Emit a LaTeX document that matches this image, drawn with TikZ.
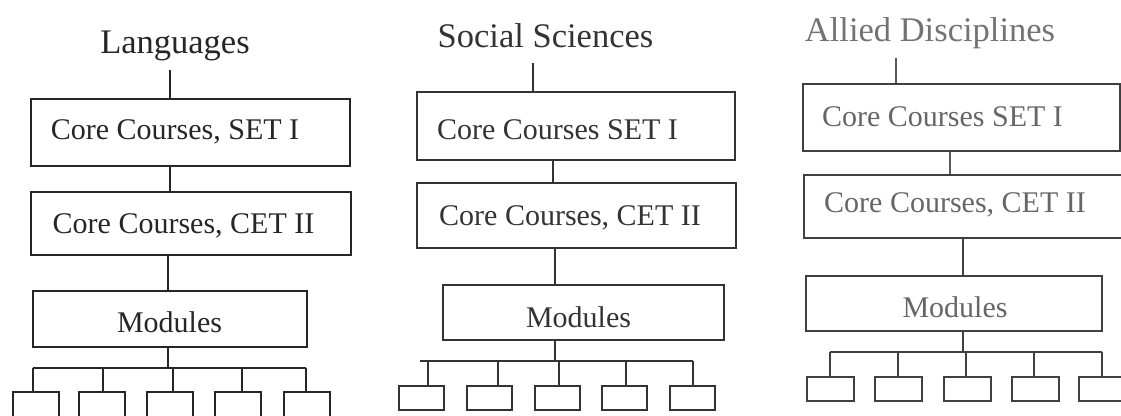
\documentclass[tikz,border=0pt]{standalone}
\usepackage{fontspec}
\setmainfont{Liberation Serif}
\begin{document}
\begin{tikzpicture}[x=1pt,y=-1pt,
  box/.style={draw=#1, line width=1.6pt, rectangle, inner sep=0pt, anchor=north west},
  box/.default=black!85,
  link/.style={draw=#1, line width=1.5pt},
  link/.default=black!85,
  txt/.style={text=#1, inner sep=0pt, anchor=base, font=\fontsize{30}{36}\selectfont},
  txt/.default=black!85,
  head/.style={text=#1, inner sep=0pt, anchor=base, font=\fontsize{34.5}{40}\selectfont},
  head/.default=black!85]
\useasboundingbox (0,0) rectangle (1121,415);

% ---------- Languages ----------
\node[head] (Lh) at (175,53) {Languages};
\node[box, minimum width=319pt, minimum height=67pt] (L1) at (30,98) {};
\node[txt] (L1t) at (175,139) {Core Courses, SET I};
\node[box, minimum width=320pt, minimum height=63pt] (L2) at (30,191) {};
\node[txt] (L2t) at (183.5,233) {Core Courses, CET II};
\node[box, minimum width=274pt, minimum height=56pt] (L3) at (32,290) {};
\node[txt] (L3t) at (169.5,332) {Modules};
\coordinate (La) at (170,70);
\draw[link] (La) -- (La |- L1.north);
\draw[link] (La |- L1.south) -- (La |- L2.north);
\coordinate (Lb) at (168,0);
\draw[link] (Lb |- L2.south) -- (Lb |- L3.north);
\coordinate (Lbar) at (168,368);
\draw[link] (Lb |- L3.south) -- (Lbar);
\foreach \i/\bx/\dx in {1/12/33, 2/78/103, 3/146/173, 4/214/242, 5/283/306} {
  \node[box, minimum width=46pt, minimum height=34pt] (Ls\i) at (\bx,391) {};
  \coordinate (Lj\i) at (\dx,368);
  \draw[link] (Lj\i) -- (Lj\i |- Ls\i.north);
}
\draw[link] (Lj1) -- (Lj5);

% ---------- Social Sciences ----------
\node[head=black!80] (Sh) at (545.5,47) {Social Sciences};
\node[box=black!80, minimum width=318pt, minimum height=68pt] (S1) at (416,91) {};
\node[txt=black!80] (S1t) at (557.5,139) {Core Courses SET I};
\node[box=black!80, minimum width=319pt, minimum height=65pt] (S2) at (416,182) {};
\node[txt=black!80] (S2t) at (570,225) {Core Courses, CET II};
\node[box=black!80, minimum width=281pt, minimum height=55pt] (S3) at (442,284) {};
\node[txt=black!80] (S3t) at (578.5,327) {Modules};
\coordinate (Sa) at (533,63);
\draw[link=black!80] (Sa) -- (Sa |- S1.north);
\coordinate (Sb) at (553,0);
\draw[link=black!80] (Sb |- S1.south) -- (Sb |- S2.north);
\coordinate (Sc) at (555,0);
\draw[link=black!80] (Sc |- S2.south) -- (Sc |- S3.north);
\coordinate (Sbar) at (555,361);
\draw[link=black!80] (Sc |- S3.south) -- (Sbar);
\foreach \i/\bx/\dx in {1/398/428, 2/466/498, 3/534/559, 4/601/626, 5/669/693} {
  \node[box=black!80, minimum width=45pt, minimum height=24pt] (Ss\i) at (\bx,385) {};
  \coordinate (Sj\i) at (\dx,361);
  \draw[link=black!80] (Sj\i) -- (Sj\i |- Ss\i.north);
}
\coordinate (Sbl) at (420,361);
\draw[link=black!80] (Sbl) -- (Sj5);

% ---------- Allied Disciplines ----------
\node[head=black!55] (Ah) at (930,41) {Allied Disciplines};
\node[box=black!75, minimum width=317pt, minimum height=67pt] (A1) at (802,83) {};
\node[txt=black!60] (A1t) at (942.5,126) {Core Courses SET I};
\node[box=black!75, minimum width=330pt, minimum height=63pt] (A2) at (803,174) {};
\node[txt=black!60] (A2t) at (955,212) {Core Courses, CET II};
\node[box=black!75, minimum width=296pt, minimum height=55pt] (A3) at (805,275) {};
\node[txt=black!60] (A3t) at (955,317) {Modules};
\coordinate (Aa) at (896,58);
\draw[link=black!65] (Aa) -- (Aa |- A1.north);
\coordinate (Ab) at (950,0);
\draw[link=black!65] (Ab |- A1.south) -- (Ab |- A2.north);
\coordinate (Ac) at (963,0);
\draw[link=black!75] (Ac |- A2.south) -- (Ac |- A3.north);
\coordinate (Abar) at (963,352);
\draw[link=black!75] (Ac |- A3.south) -- (Abar);
\foreach \i/\bx/\dx in {1/806/830, 2/874/898, 3/943/966, 4/1011/1034, 5/1078/1102} {
  \node[box=black!75, minimum width=47pt, minimum height=24pt] (As\i) at (\bx,376) {};
  \coordinate (Aj\i) at (\dx,352);
  \draw[link=black!75] (Aj\i) -- (Aj\i |- As\i.north);
}
\draw[link=black!75] (Aj1) -- (Aj5);
\end{tikzpicture}
\end{document}
